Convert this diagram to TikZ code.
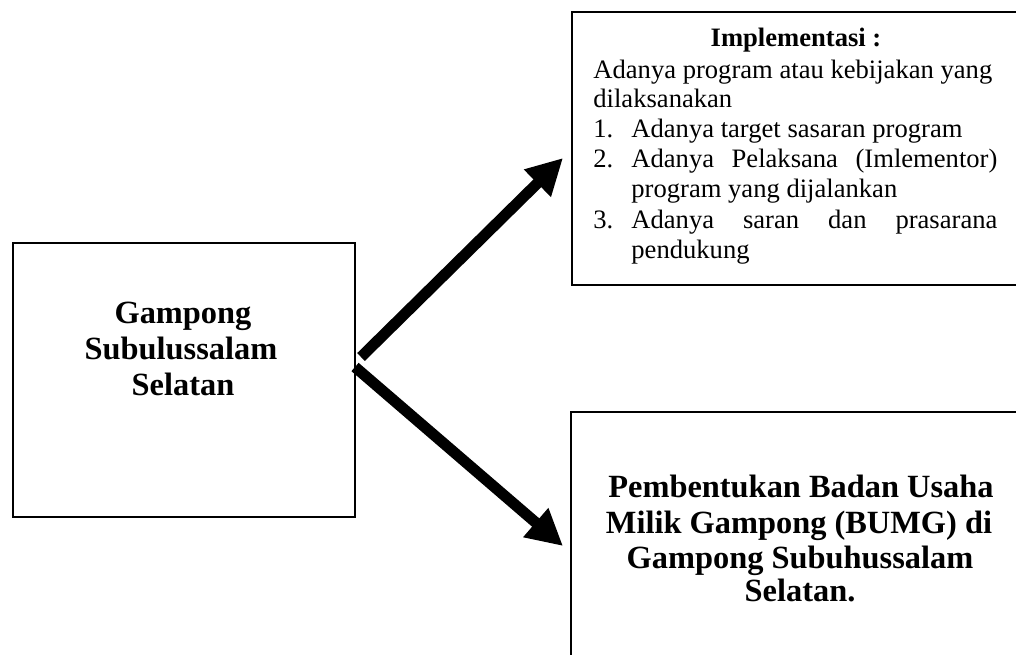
\documentclass[tikz,border=0pt]{standalone}
\usepackage{fontspec}
\setmainfont{Liberation Serif}
\usetikzlibrary{arrows.meta}
\begin{document}
\begin{tikzpicture}[x=0.5pt,y=-0.5pt,
  box/.style={draw=black,line width=0.8pt,inner sep=0pt,outer sep=0pt},
  bigarrow/.style={line width=5.5pt,-{Triangle[length=18pt,width=18pt]}},
  txt/.style={anchor=base west,inner sep=0pt,font=\fontsize{13.3}{15}\selectfont},
  btxt/.style={anchor=base,inner sep=0pt,font=\fontsize{16.2}{18}\selectfont\bfseries}]
\useasboundingbox (0,0) rectangle (1016,654);
\clip (0,0) rectangle (1016,654);
% boxes
\node[box,minimum width=171pt,minimum height=137pt] (left) at (184,380) {};
\node[box,minimum width=234pt,minimum height=136.5pt] (top) at (806,148.5) {};
\node[box,minimum width=234.5pt,minimum height=134pt] (bottom) at (805.5,546) {};
% left text
\node[btxt] (l1) at (183,323) {Gampong};
\node[btxt] (l2) at (181,359) {Subulussalam};
\node[btxt] (l3) at (183,395) {Selatan};
% top text
\node[txt,anchor=base] (t0) at (796,46) {\bfseries Implementasi :};
\node[txt] (t1) at (593,78) {Adanya program atau kebijakan yang};
\node[txt] (t2) at (593,107) {dilaksanakan};
\node[txt] (t3n) at (593,137) {1.};
\node[txt] (t3) at (631,137) {Adanya target sasaran program};
\node[txt] (t4n) at (593,167) {2.};
\node[txt] (t4) at (631,167) {\makebox[183pt][s]{Adanya Pelaksana (Imlementor)}};
\node[txt] (t5) at (631,197) {program yang dijalankan};
\node[txt] (t6n) at (593,228) {3.};
\node[txt] (t6) at (631,228) {\makebox[183pt][s]{Adanya saran dan prasarana}};
\node[txt] (t7) at (631,258) {pendukung};
% bottom text
\node[btxt] (b1) at (801,497) {Pembentukan Badan Usaha};
\node[btxt] (b2) at (799,533) {Milik Gampong (BUMG) di};
\node[btxt] (b3) at (800,568) {Gampong Subuhussalam};
\node[btxt] (b4) at (800,601) {Selatan.};
% arrows
\coordinate (a1s) at (361,357);
\coordinate (a1e) at (563,158);
\coordinate (a2s) at (355,367);
\coordinate (a2e) at (563,546);
\draw[bigarrow] (a1s) -- (a1e);
\draw[bigarrow] (a2s) -- (a2e);
\end{tikzpicture}
\end{document}
